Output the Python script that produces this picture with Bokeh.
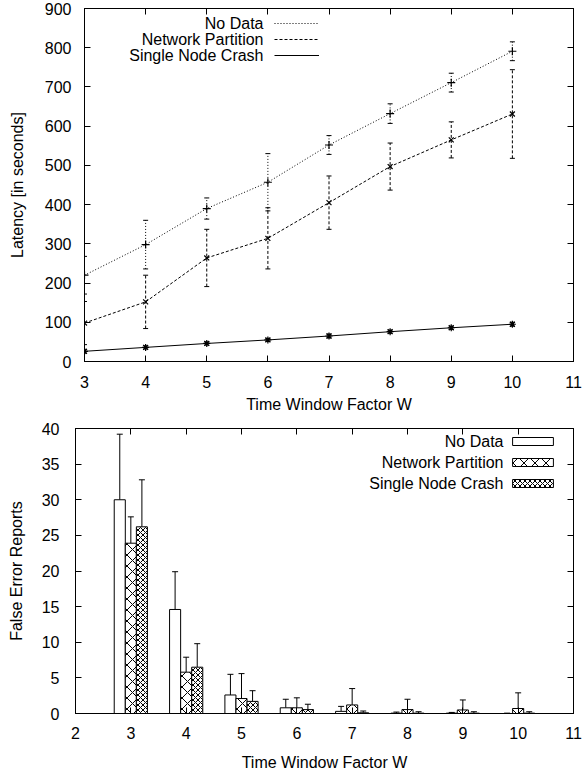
from bokeh.plotting import figure
from bokeh.models import (ColumnDataSource, Whisker, TeeHead, Legend, LegendItem,
                          Label, LinearAxis, SingleIntervalTicker, Range1d)
from bokeh.core.properties import value
from bokeh.layouts import column, row
from bokeh.embed import file_html
from bokeh.resources import INLINE

# ---------------- data ----------------
W = [3, 4, 5, 6, 7, 8, 9, 10]

# latency (seconds), mean and error
nd_latency = [220, 298, 390, 457, 552, 632, 711, 791]
nd_latency_err = [48, 62, 27, 73, 24, 25, 24, 24]
np_latency = [98, 152, 264, 314, 405, 497, 565, 631]
np_latency_err = [55, 68, 73, 78, 68, 60, 46, 113]
snc_latency = [26, 36, 46, 55, 65, 76, 86, 95]
snc_latency_err = [5, 4, 4, 4, 5, 4, 4, 5]

# false error reports, mean and (upper) error
nd_fer = [30.0, 14.6, 2.6, 0.8, 0.3, 0.05, 0.05, 0.0]
nd_fer_err = [9.2, 5.3, 2.9, 1.2, 0.7, 0.15, 0.1, 0.05]
np_fer = [23.9, 5.8, 2.1, 0.8, 1.2, 0.55, 0.5, 0.7]
np_fer_err = [3.7, 2.1, 3.5, 1.4, 2.3, 1.45, 1.4, 2.2]
snc_fer = [26.2, 6.5, 1.7, 0.55, 0.1, 0.05, 0.05, 0.05]
snc_fer_err = [6.6, 3.3, 1.5, 0.75, 0.25, 0.2, 0.2, 0.2]

series_names = ["No Data", "Network Partition", "Single Node Crash"]

FONT = "Liberation Sans"
FS = "16px"


def base_style(p, xint, yint, xlabel, ylabel, s1, s2, ys1, ys2):
    p.xgrid.visible = False
    p.ygrid.visible = False
    p.outline_line_color = "black"
    p.outline_line_width = 1
    p.background_fill_color = "white"
    p.border_fill_color = "white"
    p.xaxis.ticker = SingleIntervalTicker(interval=xint)
    p.yaxis.ticker = SingleIntervalTicker(interval=yint)
    p.xaxis.axis_label = xlabel
    p.yaxis.axis_label = ylabel
    for ax in (p.xaxis, p.yaxis):
        ax.axis_line_color = "black"
        ax.major_tick_line_color = "black"
        ax.major_tick_in = 6
        ax.major_tick_out = 0
        ax.minor_tick_line_color = None
        ax.major_label_text_font = FONT
        ax.major_label_text_font_size = FS
        ax.major_label_text_color = "black"
        ax.axis_label_text_font = FONT
        ax.axis_label_text_font_size = FS
        ax.axis_label_text_font_style = "normal"
        ax.axis_label_text_color = "black"
    p.xaxis.major_label_standoff = s1
    p.xaxis.axis_label_standoff = s2
    p.yaxis.major_label_standoff = ys1
    p.yaxis.axis_label_standoff = ys2
    # mirrored ticks on top and right (no labels)
    for side, tick in (("above", xint), ("right", yint)):
        ax = LinearAxis(ticker=SingleIntervalTicker(interval=tick))
        ax.axis_line_color = "black"
        ax.major_tick_line_color = "black"
        ax.major_tick_in = 6
        ax.major_tick_out = 0
        ax.minor_tick_line_color = None
        ax.major_label_text_font_size = "1px"
        ax.major_label_text_color = None
        ax.major_label_standoff = 0
        p.add_layout(ax, side)


# ---------------- top: latency ----------------
p1 = figure(width=584, height=417, x_range=Range1d(3, 11), y_range=Range1d(0, 900),
            output_backend="svg", toolbar_location=None,
            min_border_left=84, min_border_right=11, min_border_top=8, min_border_bottom=56)
base_style(p1, 1, 100, "Time Window Factor W", "Latency [in seconds]", 10, 5, 9, 16)

lat_specs = [
    (nd_latency, nd_latency_err, "1 2", "cross", 8),
    (np_latency, np_latency_err, "3 2", "x", 7),
    (snc_latency, snc_latency_err, "solid", "asterisk", 7),
]
line_renderers = []
for vals, errs, dash, marker, msize in lat_specs:
    src = ColumnDataSource(dict(
        x=W, y=vals,
        lo=[v - e for v, e in zip(vals, errs)],
        hi=[v + e for v, e in zip(vals, errs)],
    ))
    r = p1.line("x", "y", source=src, line_color="black", line_width=1, line_dash=dash)
    line_renderers.append(r)
    p1.scatter("x", "y", source=src, marker=marker, size=msize,
               line_color="black", fill_color="black", line_width=1.2)
    p1.add_layout(Whisker(source=src, base="x", upper="hi", lower="lo",
                          line_color="black", line_width=1, line_dash=dash,
                          upper_head=TeeHead(size=5, line_color="black", line_width=1),
                          lower_head=TeeHead(size=5, line_color="black", line_width=1)))

leg1 = Legend(items=[LegendItem(label=value(" "), renderers=[r]) for r in line_renderers],
              location=(190, 298), glyph_width=45, glyph_height=16, label_height=16,
              label_width=1, label_standoff=0, spacing=0, padding=0, margin=0,
              border_line_color=None, background_fill_alpha=0,
              label_text_font_size="1px")
p1.add_layout(leg1)
for i, name in enumerate(series_names):
    p1.add_layout(Label(x=179, y=338 - 16 * i, x_units="screen", y_units="screen",
                        text=name, text_align="right", text_baseline="middle",
                        text_font=FONT, text_font_size=FS, text_color="black"))

# ---------------- bottom: false error reports ----------------
p2 = figure(width=584, height=356, x_range=Range1d(2, 11), y_range=Range1d(0, 40),
            output_backend="svg", toolbar_location=None,
            min_border_left=75, min_border_right=11, min_border_top=11, min_border_bottom=60)
base_style(p2, 1, 5, "Time Window Factor W", "False Error Reports", 9, 12, 12, 14)

bar_specs = [
    (nd_fer, nd_fer_err, -0.2, None, 12),
    (np_fer, np_fer_err, 0.0, "diagonal_cross", 11),
    (snc_fer, snc_fer_err, 0.2, "diagonal_cross", 5),
]
bar_renderers = []
for vals, errs, off, hatch, hscale in bar_specs:
    src = ColumnDataSource(dict(
        x=[w + off for w in W], top=vals,
        hi=[v + e for v, e in zip(vals, errs)],
    ))
    kw = {}
    if hatch:
        kw = dict(hatch_pattern=hatch, hatch_scale=hscale, hatch_color="black", hatch_weight=1)
    r = p2.vbar(x="x", top="top", bottom=0, width=0.2, source=src,
                fill_color="white", line_color="black", line_width=1, **kw)
    bar_renderers.append(r)
    p2.add_layout(Whisker(source=src, base="x", upper="hi", lower="top",
                          line_color="black", line_width=1,
                          upper_head=TeeHead(size=6, line_color="black", line_width=1),
                          lower_head=None))

leg2 = Legend(items=[LegendItem(label=value(" "), renderers=[r]) for r in bar_renderers],
              location=(432, 225), glyph_width=51, glyph_height=10, label_height=10,
              label_width=1, label_standoff=0, spacing=11, padding=0, margin=0,
              border_line_color=None, background_fill_alpha=0,
              label_text_font_size="1px")
p2.add_layout(leg2)
for i, name in enumerate(series_names):
    p2.add_layout(Label(x=428, y=272 - 21 * i, x_units="screen", y_units="screen",
                        text=name, text_align="right", text_baseline="middle",
                        text_font=FONT, text_font_size=FS, text_color="black"))

layout = column(p1, row(p2), spacing=0)
open("out.html", "w").write(file_html(layout, INLINE))
